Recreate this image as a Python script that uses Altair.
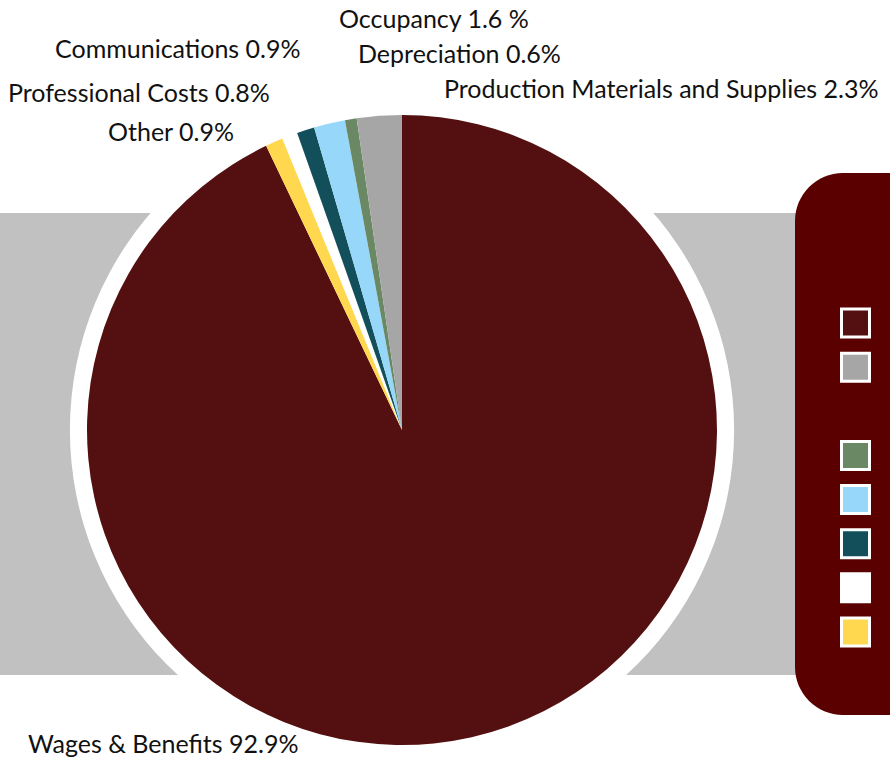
import altair as alt
import pandas as pd
import math

# ---- data ----
pie_categories = ["Wages & Benefits", "Other", "Professional Costs", "Communications",
                  "Occupancy", "Depreciation", "Production Materials and Supplies"]
pie_values = [92.9, 0.9, 0.8, 0.9, 1.6, 0.6, 2.3]
label_texts = ["Wages & Benefits 92.9%", "Other 0.9%", "Professional Costs 0.8%",
               "Communications 0.9%", "Occupancy 1.6 %", "Depreciation 0.6%",
               "Production Materials and Supplies 2.3%"]

legend_order = ["Wages & Benefits", "Production Materials and Supplies", "",
                "Depreciation", "Occupancy", "Communications",
                "Professional Costs", "Other"]
legend_categories = [c for c in legend_order if c]
palette = ["#541010", "#a6a6a6", "#6b8865", "#97d7f9", "#124f5b", "#ffffff", "#ffd84f"]

pie_df = pd.DataFrame({
    "category": pie_categories,
    "value": pie_values,
    "rank": list(range(len(pie_categories))),
})
legend_df = pd.DataFrame({"category": legend_categories})
one = pd.DataFrame({"k": [0]})

FONT = "Lato"
CX, CY, R = 402, 430, 315

color_scale = alt.Scale(domain=legend_categories, range=palette)

band = alt.Chart(one).mark_rect(color="#c1c1c1").encode(
    x=alt.value(0), x2=alt.value(800), y=alt.value(213), y2=alt.value(675))

legend_box = alt.Chart(one).mark_rect(color="#5a0000", cornerRadius=48).encode(
    x=alt.value(795), x2=alt.value(960), y=alt.value(173), y2=alt.value(715))

ring = alt.Chart(one).mark_arc(color="white", outerRadius=332, theta=0,
                               theta2=2 * math.pi).encode(
    x=alt.value(CX), y=alt.value(CY))

pie = alt.Chart(pie_df).mark_arc(outerRadius=R).encode(
    theta=alt.Theta("value:Q", stack=True),
    color=alt.Color("category:N", scale=color_scale, legend=None),
    order=alt.Order("rank:Q"),
    x=alt.value(CX), y=alt.value(CY),
)

legend_pts = alt.Chart(legend_df).mark_point(
    shape="square", filled=True, size=784, stroke="white", strokeWidth=3,
    opacity=1, strokeOpacity=1).encode(
    x=alt.value(855.5),
    y=alt.Y("category:N",
            scale=alt.Scale(domain=legend_order, range=[323, 632], padding=0),
            axis=None),
    fill=alt.Fill("category:N", scale=color_scale, legend=None),
)

label_anchor = {
    "Wages & Benefits 92.9%": (28, 745),
    "Other 0.9%": (108, 133),
    "Professional Costs 0.8%": (8, 94),
    "Communications 0.9%": (55, 50),
    "Occupancy 1.6 %": (339, 20),
    "Depreciation 0.6%": (358, 55),
    "Production Materials and Supplies 2.3%": (444, 90),
}
labels = []
for t in label_texts:
    lx, ly = label_anchor[t]
    labels.append(
        alt.Chart(one).mark_text(text=t, align="left", baseline="middle",
                                 font=FONT, fontSize=25, color="#111111").encode(
            x=alt.value(lx), y=alt.value(ly))
    )

chart = alt.layer(band, legend_box, ring, pie, legend_pts, *labels).properties(
    width=890, height=757, padding=0, autosize="none", background="white"
).configure_view(stroke=None)

chart.save("out.html", embed_options={"renderer": "svg", "actions": False})
